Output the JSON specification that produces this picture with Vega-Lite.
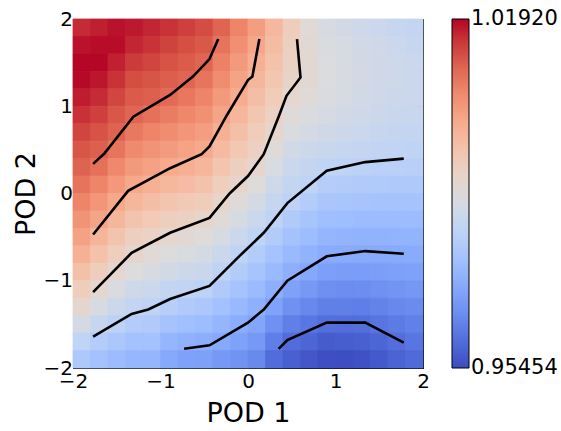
{
  "$schema": "https://vega.github.io/schema/vega-lite/v6.json",
  "width": 350,
  "height": 349,
  "padding": {"left": 12, "top": 9, "right": 5, "bottom": 5},
  "background": "white",
  "config": {
    "font": "DejaVu Sans",
    "view": {"stroke": null},
    "axis": {
      "labelFont": "DejaVu Sans", "labelFontSize": 20, "labelColor": "black",
      "titleFont": "DejaVu Sans", "titleFontSize": 27, "titleFontWeight": "normal", "titleColor": "black",
      "tickColor": "black", "tickSize": -5, "tickWidth": 1, "domainColor": "black", "domainWidth": 1,
      "grid": false, "labelFlush": false, "labelOverlap": false, "zindex": 1
    },
    "legend": {
      "labelFont": "DejaVu Sans", "labelFontSize": 21, "labelColor": "black"
    }
  },
  "datasets": {
    "grid": [
{"x":-1.9,"y":1.9,"v":1.016},{"x":-1.7,"y":1.9,"v":1.017},{"x":-1.5,"y":1.9,"v":1.018},{"x":-1.3,"y":1.9,"v":1.0175},{"x":-1.1,"y":1.9,"v":1.0165},{"x":-0.9,"y":1.9,"v":1.0154},{"x":-0.7,"y":1.9,"v":1.0143},{"x":-0.5,"y":1.9,"v":1.0132},{"x":-0.3,"y":1.9,"v":1.0103},{"x":-0.1,"y":1.9,"v":1.0061},{"x":0.1,"y":1.9,"v":1.002},{"x":0.3,"y":1.9,"v":0.9975},{"x":0.5,"y":1.9,"v":0.9925},{"x":0.7,"y":1.9,"v":0.988},{"x":0.9,"y":1.9,"v":0.9855},{"x":1.1,"y":1.9,"v":0.9845},{"x":1.3,"y":1.9,"v":0.9835},{"x":1.5,"y":1.9,"v":0.9828},{"x":1.7,"y":1.9,"v":0.982},{"x":1.9,"y":1.9,"v":0.9812},
{"x":-1.9,"y":1.7,"v":1.018},{"x":-1.7,"y":1.7,"v":1.0185},{"x":-1.5,"y":1.7,"v":1.0185},{"x":-1.3,"y":1.7,"v":1.0165},{"x":-1.1,"y":1.7,"v":1.0153},{"x":-0.9,"y":1.7,"v":1.014},{"x":-0.7,"y":1.7,"v":1.013},{"x":-0.5,"y":1.7,"v":1.0118},{"x":-0.3,"y":1.7,"v":1.0085},{"x":-0.1,"y":1.7,"v":1.0045},{"x":0.1,"y":1.7,"v":1.0007},{"x":0.3,"y":1.7,"v":0.9965},{"x":0.5,"y":1.7,"v":0.9918},{"x":0.7,"y":1.7,"v":0.9885},{"x":0.9,"y":1.7,"v":0.986},{"x":1.1,"y":1.7,"v":0.985},{"x":1.3,"y":1.7,"v":0.9842},{"x":1.5,"y":1.7,"v":0.9835},{"x":1.7,"y":1.7,"v":0.9828},{"x":1.9,"y":1.7,"v":0.982},
{"x":-1.9,"y":1.5,"v":1.019},{"x":-1.7,"y":1.5,"v":1.019},{"x":-1.5,"y":1.5,"v":1.0169},{"x":-1.3,"y":1.5,"v":1.0146},{"x":-1.1,"y":1.5,"v":1.0138},{"x":-0.9,"y":1.5,"v":1.0126},{"x":-0.7,"y":1.5,"v":1.0115},{"x":-0.5,"y":1.5,"v":1.0102},{"x":-0.3,"y":1.5,"v":1.0066},{"x":-0.1,"y":1.5,"v":1.0029},{"x":0.1,"y":1.5,"v":0.9991},{"x":0.3,"y":1.5,"v":0.9955},{"x":0.5,"y":1.5,"v":0.991},{"x":0.7,"y":1.5,"v":0.9888},{"x":0.9,"y":1.5,"v":0.9865},{"x":1.1,"y":1.5,"v":0.9855},{"x":1.3,"y":1.5,"v":0.9847},{"x":1.5,"y":1.5,"v":0.984},{"x":1.7,"y":1.5,"v":0.9833},{"x":1.9,"y":1.5,"v":0.9826},
{"x":-1.9,"y":1.3,"v":1.0188},{"x":-1.7,"y":1.3,"v":1.0177},{"x":-1.5,"y":1.3,"v":1.0153},{"x":-1.3,"y":1.3,"v":1.0131},{"x":-1.1,"y":1.3,"v":1.0124},{"x":-0.9,"y":1.3,"v":1.0112},{"x":-0.7,"y":1.3,"v":1.0101},{"x":-0.5,"y":1.3,"v":1.0082},{"x":-0.3,"y":1.3,"v":1.0048},{"x":-0.1,"y":1.3,"v":1.0013},{"x":0.1,"y":1.3,"v":0.9976},{"x":0.3,"y":1.3,"v":0.9943},{"x":0.5,"y":1.3,"v":0.9903},{"x":0.7,"y":1.3,"v":0.9885},{"x":0.9,"y":1.3,"v":0.9865},{"x":1.1,"y":1.3,"v":0.9855},{"x":1.3,"y":1.3,"v":0.9847},{"x":1.5,"y":1.3,"v":0.984},{"x":1.7,"y":1.3,"v":0.9834},{"x":1.9,"y":1.3,"v":0.9828},
{"x":-1.9,"y":1.1,"v":1.0172},{"x":-1.7,"y":1.1,"v":1.016},{"x":-1.5,"y":1.1,"v":1.0137},{"x":-1.3,"y":1.1,"v":1.0116},{"x":-1.1,"y":1.1,"v":1.0109},{"x":-0.9,"y":1.1,"v":1.0096},{"x":-0.7,"y":1.1,"v":1.008},{"x":-0.5,"y":1.1,"v":1.0062},{"x":-0.3,"y":1.1,"v":1.0029},{"x":-0.1,"y":1.1,"v":0.9997},{"x":0.1,"y":1.1,"v":0.996},{"x":0.3,"y":1.1,"v":0.993},{"x":0.5,"y":1.1,"v":0.9892},{"x":0.7,"y":1.1,"v":0.9875},{"x":0.9,"y":1.1,"v":0.986},{"x":1.1,"y":1.1,"v":0.985},{"x":1.3,"y":1.1,"v":0.9843},{"x":1.5,"y":1.1,"v":0.9836},{"x":1.7,"y":1.1,"v":0.9831},{"x":1.9,"y":1.1,"v":0.9826},
{"x":-1.9,"y":0.9,"v":1.0155},{"x":-1.7,"y":0.9,"v":1.0143},{"x":-1.5,"y":0.9,"v":1.0121},{"x":-1.3,"y":0.9,"v":1.0101},{"x":-1.1,"y":0.9,"v":1.0087},{"x":-0.9,"y":0.9,"v":1.0073},{"x":-0.7,"y":0.9,"v":1.0058},{"x":-0.5,"y":0.9,"v":1.0042},{"x":-0.3,"y":0.9,"v":1.001},{"x":-0.1,"y":0.9,"v":0.9978},{"x":0.1,"y":0.9,"v":0.9944},{"x":0.3,"y":0.9,"v":0.9913},{"x":0.5,"y":0.9,"v":0.9876},{"x":0.7,"y":0.9,"v":0.9862},{"x":0.9,"y":0.9,"v":0.9852},{"x":1.1,"y":0.9,"v":0.9843},{"x":1.3,"y":0.9,"v":0.9836},{"x":1.5,"y":0.9,"v":0.983},{"x":1.7,"y":0.9,"v":0.9825},{"x":1.9,"y":0.9,"v":0.9821},
{"x":-1.9,"y":0.7,"v":1.0138},{"x":-1.7,"y":0.7,"v":1.0126},{"x":-1.5,"y":0.7,"v":1.0105},{"x":-1.3,"y":0.7,"v":1.0078},{"x":-1.1,"y":0.7,"v":1.0063},{"x":-0.9,"y":0.7,"v":1.0049},{"x":-0.7,"y":0.7,"v":1.0036},{"x":-0.5,"y":0.7,"v":1.0022},{"x":-0.3,"y":0.7,"v":0.999},{"x":-0.1,"y":0.7,"v":0.9958},{"x":0.1,"y":0.7,"v":0.9928},{"x":0.3,"y":0.7,"v":0.9895},{"x":0.5,"y":0.7,"v":0.986},{"x":0.7,"y":0.7,"v":0.9848},{"x":0.9,"y":0.7,"v":0.984},{"x":1.1,"y":0.7,"v":0.9832},{"x":1.3,"y":0.7,"v":0.9826},{"x":1.5,"y":0.7,"v":0.982},{"x":1.7,"y":0.7,"v":0.9816},{"x":1.9,"y":0.7,"v":0.9813},
{"x":-1.9,"y":0.5,"v":1.0122},{"x":-1.7,"y":0.5,"v":1.0109},{"x":-1.5,"y":0.5,"v":1.0082},{"x":-1.3,"y":0.5,"v":1.0053},{"x":-1.1,"y":0.5,"v":1.0039},{"x":-0.9,"y":0.5,"v":1.0025},{"x":-0.7,"y":0.5,"v":1.0014},{"x":-0.5,"y":0.5,"v":1.0002},{"x":-0.3,"y":0.5,"v":0.9968},{"x":-0.1,"y":0.5,"v":0.9939},{"x":0.1,"y":0.5,"v":0.9913},{"x":0.3,"y":0.5,"v":0.9876},{"x":0.5,"y":0.5,"v":0.9844},{"x":0.7,"y":0.5,"v":0.9832},{"x":0.9,"y":0.5,"v":0.9825},{"x":1.1,"y":0.5,"v":0.9818},{"x":1.3,"y":0.5,"v":0.9812},{"x":1.5,"y":0.5,"v":0.9808},{"x":1.7,"y":0.5,"v":0.9805},{"x":1.9,"y":0.5,"v":0.9803},
{"x":-1.9,"y":0.3,"v":1.0105},{"x":-1.7,"y":0.3,"v":1.0087},{"x":-1.5,"y":0.3,"v":1.0056},{"x":-1.3,"y":0.3,"v":1.0028},{"x":-1.1,"y":0.3,"v":1.0015},{"x":-0.9,"y":0.3,"v":1.0001},{"x":-0.7,"y":0.3,"v":0.9991},{"x":-0.5,"y":0.3,"v":0.9977},{"x":-0.3,"y":0.3,"v":0.9946},{"x":-0.1,"y":0.3,"v":0.9919},{"x":0.1,"y":0.3,"v":0.9895},{"x":0.3,"y":0.3,"v":0.9857},{"x":0.5,"y":0.3,"v":0.9828},{"x":0.7,"y":0.3,"v":0.9816},{"x":0.9,"y":0.3,"v":0.9805},{"x":1.1,"y":0.3,"v":0.98},{"x":1.3,"y":0.3,"v":0.9795},{"x":1.5,"y":0.3,"v":0.9793},{"x":1.7,"y":0.3,"v":0.9792},{"x":1.9,"y":0.3,"v":0.979},
{"x":-1.9,"y":0.1,"v":1.0084},{"x":-1.7,"y":0.1,"v":1.0062},{"x":-1.5,"y":0.1,"v":1.003},{"x":-1.3,"y":0.1,"v":1.0004},{"x":-1.1,"y":0.1,"v":0.9989},{"x":-0.9,"y":0.1,"v":0.9974},{"x":-0.7,"y":0.1,"v":0.9964},{"x":-0.5,"y":0.1,"v":0.9953},{"x":-0.3,"y":0.1,"v":0.9923},{"x":-0.1,"y":0.1,"v":0.99},{"x":0.1,"y":0.1,"v":0.9872},{"x":0.3,"y":0.1,"v":0.9838},{"x":0.5,"y":0.1,"v":0.9813},{"x":0.7,"y":0.1,"v":0.9801},{"x":0.9,"y":0.1,"v":0.9784},{"x":1.1,"y":0.1,"v":0.9779},{"x":1.3,"y":0.1,"v":0.9775},{"x":1.5,"y":0.1,"v":0.9774},{"x":1.7,"y":0.1,"v":0.9773},{"x":1.9,"y":0.1,"v":0.9772},
{"x":-1.9,"y":-0.1,"v":1.0061},{"x":-1.7,"y":-0.1,"v":1.0036},{"x":-1.5,"y":-0.1,"v":1.0004},{"x":-1.3,"y":-0.1,"v":0.9977},{"x":-1.1,"y":-0.1,"v":0.9962},{"x":-0.9,"y":-0.1,"v":0.9947},{"x":-0.7,"y":-0.1,"v":0.9937},{"x":-0.5,"y":-0.1,"v":0.9926},{"x":-0.3,"y":-0.1,"v":0.9901},{"x":-0.1,"y":-0.1,"v":0.9875},{"x":0.1,"y":-0.1,"v":0.9849},{"x":0.3,"y":-0.1,"v":0.9819},{"x":0.5,"y":-0.1,"v":0.9798},{"x":0.7,"y":-0.1,"v":0.978},{"x":0.9,"y":-0.1,"v":0.9763},{"x":1.1,"y":-0.1,"v":0.9759},{"x":1.3,"y":-0.1,"v":0.9756},{"x":1.5,"y":-0.1,"v":0.9755},{"x":1.7,"y":-0.1,"v":0.9754},{"x":1.9,"y":-0.1,"v":0.9754},
{"x":-1.9,"y":-0.3,"v":1.0038},{"x":-1.7,"y":-0.3,"v":1.001},{"x":-1.5,"y":-0.3,"v":0.9976},{"x":-1.3,"y":-0.3,"v":0.9949},{"x":-1.1,"y":-0.3,"v":0.9935},{"x":-0.9,"y":-0.3,"v":0.992},{"x":-0.7,"y":-0.3,"v":0.9911},{"x":-0.5,"y":-0.3,"v":0.99},{"x":-0.3,"y":-0.3,"v":0.9877},{"x":-0.1,"y":-0.3,"v":0.9851},{"x":0.1,"y":-0.3,"v":0.9826},{"x":0.3,"y":-0.3,"v":0.98},{"x":0.5,"y":-0.3,"v":0.9774},{"x":0.7,"y":-0.3,"v":0.9758},{"x":0.9,"y":-0.3,"v":0.9743},{"x":1.1,"y":-0.3,"v":0.9739},{"x":1.3,"y":-0.3,"v":0.9736},{"x":1.5,"y":-0.3,"v":0.9735},{"x":1.7,"y":-0.3,"v":0.9736},{"x":1.9,"y":-0.3,"v":0.9736},
{"x":-1.9,"y":-0.5,"v":1.0015},{"x":-1.7,"y":-0.5,"v":0.9982},{"x":-1.5,"y":-0.5,"v":0.9949},{"x":-1.3,"y":-0.5,"v":0.9922},{"x":-1.1,"y":-0.5,"v":0.9908},{"x":-0.9,"y":-0.5,"v":0.9893},{"x":-0.7,"y":-0.5,"v":0.9884},{"x":-0.5,"y":-0.5,"v":0.9874},{"x":-0.3,"y":-0.5,"v":0.9852},{"x":-0.1,"y":-0.5,"v":0.9827},{"x":0.1,"y":-0.5,"v":0.9803},{"x":0.3,"y":-0.5,"v":0.9777},{"x":0.5,"y":-0.5,"v":0.9752},{"x":0.7,"y":-0.5,"v":0.9737},{"x":0.9,"y":-0.5,"v":0.9722},{"x":1.1,"y":-0.5,"v":0.9719},{"x":1.3,"y":-0.5,"v":0.9716},{"x":1.5,"y":-0.5,"v":0.9716},{"x":1.7,"y":-0.5,"v":0.9717},{"x":1.9,"y":-0.5,"v":0.9718},
{"x":-1.9,"y":-0.7,"v":0.9989},{"x":-1.7,"y":-0.7,"v":0.9953},{"x":-1.5,"y":-0.7,"v":0.9921},{"x":-1.3,"y":-0.7,"v":0.9894},{"x":-1.1,"y":-0.7,"v":0.9881},{"x":-0.9,"y":-0.7,"v":0.9867},{"x":-0.7,"y":-0.7,"v":0.9858},{"x":-0.5,"y":-0.7,"v":0.9849},{"x":-0.3,"y":-0.7,"v":0.9827},{"x":-0.1,"y":-0.7,"v":0.9802},{"x":0.1,"y":-0.7,"v":0.978},{"x":0.3,"y":-0.7,"v":0.9755},{"x":0.5,"y":-0.7,"v":0.973},{"x":0.7,"y":-0.7,"v":0.9716},{"x":0.9,"y":-0.7,"v":0.9702},{"x":1.1,"y":-0.7,"v":0.9699},{"x":1.3,"y":-0.7,"v":0.9697},{"x":1.5,"y":-0.7,"v":0.9697},{"x":1.7,"y":-0.7,"v":0.9698},{"x":1.9,"y":-0.7,"v":0.97},
{"x":-1.9,"y":-0.9,"v":0.9957},{"x":-1.7,"y":-0.9,"v":0.9924},{"x":-1.5,"y":-0.9,"v":0.9892},{"x":-1.3,"y":-0.9,"v":0.9866},{"x":-1.1,"y":-0.9,"v":0.9855},{"x":-0.9,"y":-0.9,"v":0.9841},{"x":-0.7,"y":-0.9,"v":0.9832},{"x":-0.5,"y":-0.9,"v":0.9823},{"x":-0.3,"y":-0.9,"v":0.9802},{"x":-0.1,"y":-0.9,"v":0.9778},{"x":0.1,"y":-0.9,"v":0.9757},{"x":0.3,"y":-0.9,"v":0.9732},{"x":0.5,"y":-0.9,"v":0.9708},{"x":0.7,"y":-0.9,"v":0.9693},{"x":0.9,"y":-0.9,"v":0.9676},{"x":1.1,"y":-0.9,"v":0.9673},{"x":1.3,"y":-0.9,"v":0.9671},{"x":1.5,"y":-0.9,"v":0.9674},{"x":1.7,"y":-0.9,"v":0.9678},{"x":1.9,"y":-0.9,"v":0.9681},
{"x":-1.9,"y":-1.1,"v":0.9925},{"x":-1.7,"y":-1.1,"v":0.9893},{"x":-1.5,"y":-1.1,"v":0.986},{"x":-1.3,"y":-1.1,"v":0.9838},{"x":-1.1,"y":-1.1,"v":0.9828},{"x":-0.9,"y":-1.1,"v":0.9814},{"x":-0.7,"y":-1.1,"v":0.9806},{"x":-0.5,"y":-1.1,"v":0.9797},{"x":-0.3,"y":-1.1,"v":0.9776},{"x":-0.1,"y":-1.1,"v":0.9754},{"x":0.1,"y":-1.1,"v":0.9734},{"x":0.3,"y":-1.1,"v":0.9709},{"x":0.5,"y":-1.1,"v":0.9681},{"x":0.7,"y":-1.1,"v":0.9665},{"x":0.9,"y":-1.1,"v":0.965},{"x":1.1,"y":-1.1,"v":0.9648},{"x":1.3,"y":-1.1,"v":0.9647},{"x":1.5,"y":-1.1,"v":0.9652},{"x":1.7,"y":-1.1,"v":0.9658},{"x":1.9,"y":-1.1,"v":0.9663},
{"x":-1.9,"y":-1.3,"v":0.9891},{"x":-1.7,"y":-1.3,"v":0.9856},{"x":-1.5,"y":-1.3,"v":0.9829},{"x":-1.3,"y":-1.3,"v":0.981},{"x":-1.1,"y":-1.3,"v":0.9801},{"x":-0.9,"y":-1.3,"v":0.9786},{"x":-0.7,"y":-1.3,"v":0.9776},{"x":-0.5,"y":-1.3,"v":0.9767},{"x":-0.3,"y":-1.3,"v":0.9749},{"x":-0.1,"y":-1.3,"v":0.9729},{"x":0.1,"y":-1.3,"v":0.9711},{"x":0.3,"y":-1.3,"v":0.9682},{"x":0.5,"y":-1.3,"v":0.9652},{"x":0.7,"y":-1.3,"v":0.9638},{"x":0.9,"y":-1.3,"v":0.9624},{"x":1.1,"y":-1.3,"v":0.9623},{"x":1.3,"y":-1.3,"v":0.9622},{"x":1.5,"y":-1.3,"v":0.9629},{"x":1.7,"y":-1.3,"v":0.9638},{"x":1.9,"y":-1.3,"v":0.9644},
{"x":-1.9,"y":-1.5,"v":0.9848},{"x":-1.7,"y":-1.5,"v":0.9819},{"x":-1.5,"y":-1.5,"v":0.9797},{"x":-1.3,"y":-1.5,"v":0.978},{"x":-1.1,"y":-1.5,"v":0.9775},{"x":-0.9,"y":-1.5,"v":0.9755},{"x":-0.7,"y":-1.5,"v":0.9744},{"x":-0.5,"y":-1.5,"v":0.9737},{"x":-0.3,"y":-1.5,"v":0.9722},{"x":-0.1,"y":-1.5,"v":0.9705},{"x":0.1,"y":-1.5,"v":0.969},{"x":0.3,"y":-1.5,"v":0.9652},{"x":0.5,"y":-1.5,"v":0.9623},{"x":0.7,"y":-1.5,"v":0.961},{"x":0.9,"y":-1.5,"v":0.9598},{"x":1.1,"y":-1.5,"v":0.9597},{"x":1.3,"y":-1.5,"v":0.9598},{"x":1.5,"y":-1.5,"v":0.9607},{"x":1.7,"y":-1.5,"v":0.9617},{"x":1.9,"y":-1.5,"v":0.9625},
{"x":-1.9,"y":-1.7,"v":0.9804},{"x":-1.7,"y":-1.7,"v":0.978},{"x":-1.5,"y":-1.7,"v":0.9765},{"x":-1.3,"y":-1.7,"v":0.975},{"x":-1.1,"y":-1.7,"v":0.975},{"x":-0.9,"y":-1.7,"v":0.9723},{"x":-0.7,"y":-1.7,"v":0.9713},{"x":-0.5,"y":-1.7,"v":0.9707},{"x":-0.3,"y":-1.7,"v":0.9695},{"x":-0.1,"y":-1.7,"v":0.968},{"x":0.1,"y":-1.7,"v":0.9665},{"x":0.3,"y":-1.7,"v":0.9622},{"x":0.5,"y":-1.7,"v":0.9595},{"x":0.7,"y":-1.7,"v":0.9585},{"x":0.9,"y":-1.7,"v":0.957},{"x":1.1,"y":-1.7,"v":0.9572},{"x":1.3,"y":-1.7,"v":0.9575},{"x":1.5,"y":-1.7,"v":0.9585},{"x":1.7,"y":-1.7,"v":0.9597},{"x":1.9,"y":-1.7,"v":0.9607},
{"x":-1.9,"y":-1.9,"v":0.977},{"x":-1.7,"y":-1.9,"v":0.975},{"x":-1.5,"y":-1.9,"v":0.9735},{"x":-1.3,"y":-1.9,"v":0.9725},{"x":-1.1,"y":-1.9,"v":0.9722},{"x":-0.9,"y":-1.9,"v":0.9695},{"x":-0.7,"y":-1.9,"v":0.968},{"x":-0.5,"y":-1.9,"v":0.9678},{"x":-0.3,"y":-1.9,"v":0.9665},{"x":-0.1,"y":-1.9,"v":0.9655},{"x":0.1,"y":-1.9,"v":0.964},{"x":0.3,"y":-1.9,"v":0.9595},{"x":0.5,"y":-1.9,"v":0.9575},{"x":0.7,"y":-1.9,"v":0.9562},{"x":0.9,"y":-1.9,"v":0.955},{"x":1.1,"y":-1.9,"v":0.9548},{"x":1.3,"y":-1.9,"v":0.9555},{"x":1.5,"y":-1.9,"v":0.9565},{"x":1.7,"y":-1.9,"v":0.958},{"x":1.9,"y":-1.9,"v":0.959}
    ],
    "contours": [
{"line":1,"i":0,"x":-1.77,"y":0.34},{"line":1,"i":1,"x":-1.64,"y":0.46},{"line":1,"i":2,"x":-1.31,"y":0.88},{"line":1,"i":3,"x":-0.89,"y":1.13},{"line":1,"i":4,"x":-0.63,"y":1.34},{"line":1,"i":5,"x":-0.44,"y":1.54},{"line":1,"i":6,"x":-0.34,"y":1.77},
{"line":2,"i":0,"x":-1.77,"y":-0.47},{"line":2,"i":1,"x":-1.37,"y":0.03},{"line":2,"i":2,"x":-0.89,"y":0.29},{"line":2,"i":3,"x":-0.53,"y":0.45},{"line":2,"i":4,"x":-0.44,"y":0.54},{"line":2,"i":5,"x":-0.24,"y":0.9},{"line":2,"i":6,"x":0.0,"y":1.3},{"line":2,"i":7,"x":0.05,"y":1.34},{"line":2,"i":8,"x":0.13,"y":1.77},
{"line":3,"i":0,"x":-1.77,"y":-1.13},{"line":3,"i":1,"x":-1.33,"y":-0.68},{"line":3,"i":2,"x":-0.89,"y":-0.45},{"line":3,"i":3,"x":-0.44,"y":-0.28},{"line":3,"i":4,"x":-0.21,"y":0.0},{"line":3,"i":5,"x":0.0,"y":0.2},{"line":3,"i":6,"x":0.18,"y":0.45},{"line":3,"i":7,"x":0.35,"y":0.88},{"line":3,"i":8,"x":0.44,"y":1.12},{"line":3,"i":9,"x":0.6,"y":1.33},{"line":3,"i":10,"x":0.56,"y":1.77},
{"line":4,"i":0,"x":-1.77,"y":-1.64},{"line":4,"i":1,"x":-1.33,"y":-1.38},{"line":4,"i":2,"x":-1.14,"y":-1.33},{"line":4,"i":3,"x":-0.89,"y":-1.21},{"line":4,"i":4,"x":-0.44,"y":-1.06},{"line":4,"i":5,"x":-0.09,"y":-0.71},{"line":4,"i":6,"x":0.18,"y":-0.45},{"line":4,"i":7,"x":0.45,"y":-0.11},{"line":4,"i":8,"x":0.9,"y":0.26},{"line":4,"i":9,"x":1.34,"y":0.36},{"line":4,"i":10,"x":1.78,"y":0.4},
{"line":5,"i":0,"x":-0.73,"y":-1.78},{"line":5,"i":1,"x":-0.44,"y":-1.74},{"line":5,"i":2,"x":0.0,"y":-1.48},{"line":5,"i":3,"x":0.18,"y":-1.33},{"line":5,"i":4,"x":0.45,"y":-1.0},{"line":5,"i":5,"x":0.9,"y":-0.72},{"line":5,"i":6,"x":1.34,"y":-0.66},{"line":5,"i":7,"x":1.78,"y":-0.69},
{"line":6,"i":0,"x":0.35,"y":-1.78},{"line":6,"i":1,"x":0.45,"y":-1.68},{"line":6,"i":2,"x":0.9,"y":-1.48},{"line":6,"i":3,"x":1.34,"y":-1.48},{"line":6,"i":4,"x":1.78,"y":-1.71}
    ]
  },
  "layer": [
    {
      "data": {"name": "grid"},
      "mark": {"type": "rect", "strokeWidth": 0.8, "stroke": {"expr": "scale('color', datum.v)"}},
      "encoding": {
        "x": {"field": "x", "type": "ordinal", "sort": "ascending", "axis": null, "scale": {"paddingInner": 0, "paddingOuter": 0}},
        "y": {"field": "y", "type": "ordinal", "sort": "descending", "axis": null, "scale": {"paddingInner": 0, "paddingOuter": 0}},
        "color": {
          "field": "v", "type": "quantitative",
          "scale": {
            "domain": [0.95454, 0.961006, 0.967472, 0.973938, 0.980404, 0.98687, 0.993336, 0.999802, 1.006268, 1.012734, 1.0192],
            "range": ["#3b4cc0", "#5977e3", "#7b9ff9", "#9ebeff", "#c0d4f5", "#dddcdc", "#f2cbb7", "#f7ac8e", "#ee8468", "#d65244", "#b40426"],
            "interpolate": "rgb"
          },
          "legend": {
            "type": "gradient", "direction": "vertical",
            "title": null, "values": [0.95454, 1.0192], "format": ".5f",
            "gradientLength": 349, "gradientThickness": 17,
            "gradientStrokeColor": "black", "gradientStrokeWidth": 1,
            "offset": 28, "padding": 0, "labelOffset": 2,
            "encoding": {"labels": {"baseline": {"value": "middle"}}}
          }
        }
      }
    },
    {
      "data": {"name": "contours"},
      "mark": {"type": "line", "color": "black", "strokeWidth": 2.6, "interpolate": "linear"},
      "encoding": {
        "x": {"field": "x", "type": "quantitative", "scale": {"domain": [-2, 2], "nice": false, "zero": false},
              "axis": {"orient": "bottom", "title": "POD 1", "values": [-2, -1, 0, 1, 2], "labelPadding": 8, "titlePadding": 9}},
        "y": {"field": "y", "type": "quantitative", "scale": {"domain": [-2, 2], "nice": false, "zero": false},
              "axis": {"orient": "left", "title": "POD 2", "values": [-2, -1, 0, 1, 2], "labelPadding": 5.5, "titlePadding": 3}},
        "detail": {"field": "line", "type": "nominal"},
        "order": {"field": "i", "type": "quantitative"}
      }
    },
    {
      "data": {"name": "contours"},
      "mark": {"type": "point", "opacity": 0},
      "encoding": {
        "x": {"field": "x", "type": "quantitative", "scale": {"domain": [-2, 2], "nice": false, "zero": false},
              "axis": {"orient": "top", "title": null, "labels": false, "values": [-2, -1, 0, 1, 2]}},
        "y": {"field": "y", "type": "quantitative", "scale": {"domain": [-2, 2], "nice": false, "zero": false},
              "axis": {"orient": "right", "title": null, "labels": false, "values": [-2, -1, 0, 1, 2]}}
      }
    }
  ],
  "resolve": {"scale": {"x": "independent", "y": "independent"}, "axis": {"x": "independent", "y": "independent"}}
}
